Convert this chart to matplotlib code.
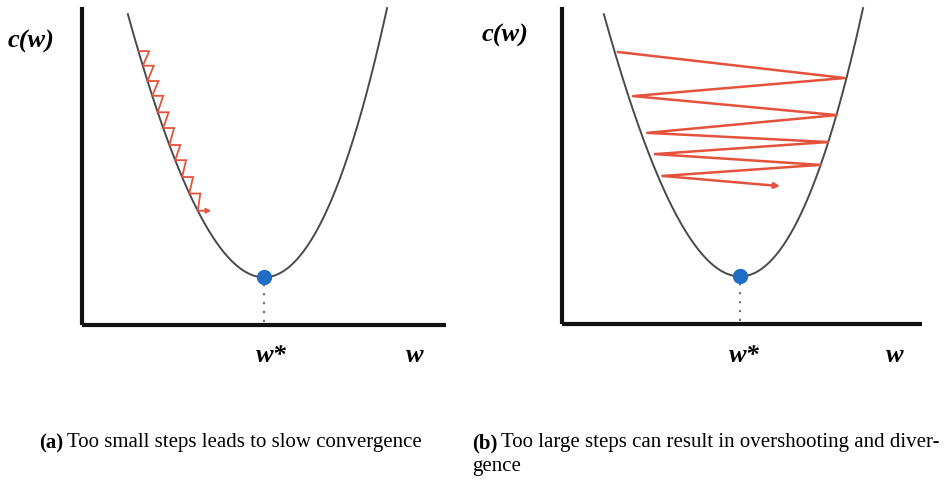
import numpy as np
import matplotlib
matplotlib.use("Agg")
import matplotlib.pyplot as plt

# cost curve c(w) = c_min + a*(w - w_opt)^2 + b*(w - w_opt)^3
w_opt = 5.0
c_min = 1.5
coef_a = 0.67
coef_b = 0.021
w_range = (1.26, 8.38)

# (a) small steps: w positions of each step on the curve, then the final arrow tip
small_steps_w = [1.55, 1.67, 1.80, 1.93, 2.08, 2.23, 2.40, 2.56, 2.75, 2.95, 3.18]
small_tooth = 0.3
small_arrow_end_w = 3.55

# (b) large steps: bouncing points across the valley
large_steps_w = [1.65, 7.88, 2.06, 7.66, 2.45, 7.42, 2.66, 7.20, 2.88, 6.10]
large_steps_c = [8.58, 7.76, 7.19, 6.59, 6.03, 5.74, 5.36, 5.02, 4.67, 4.35]

captions = [("(a)", "Too small steps leads to slow convergence"),
            ("(b)", "Too large steps can result in overshooting and diver-")]
caption_tail = "gence"

RED = "#e4523b"
CURVE = "#4a4a4a"
BLUE = "#1f6ec4"
SERIF = "Liberation Serif"


def cost(w):
    d = np.asarray(w) - w_opt
    return c_min + coef_a * d ** 2 + coef_b * d ** 3


W, H = 949, 481
fig = plt.figure(figsize=(W / 100, H / 100), dpi=100)


def px_axes(x0, y_top, x1, y_bot):
    return fig.add_axes([x0 / W, 1 - y_bot / H, (x1 - x0) / W, (y_bot - y_top) / H])


def setup(ax, xmin):
    ax.set_xlim(xmin, 10)
    ax.set_ylim(0, 10)
    for side in ("top", "right"):
        ax.spines[side].set_visible(False)
    for side in ("left", "bottom"):
        ax.spines[side].set_linewidth(3)
        ax.spines[side].set_color("#111111")
        ax.spines[side].set_capstyle("butt")
    ax.set_xticks([])
    ax.set_yticks([])
    ax.patch.set_alpha(0)

    ws = np.linspace(*w_range, 300)
    ax.plot(ws, cost(ws), color=CURVE, lw=1.4, zorder=2)
    ax.vlines(w_opt, 0.1, c_min, colors="#777777", linestyles=(0, (1, 3)), lw=1.6, zorder=1)
    ax.plot([w_opt], [c_min], "o", color=BLUE, ms=10, zorder=5)


ax1 = px_axes(82, 8, 446, 326)
setup(ax1, 0.0)
ax2 = px_axes(562, 8, 922, 325)
setup(ax2, 0.11)

# zigzag of small steps hugging the curve
xs, ys = [], []
for i, w in enumerate(small_steps_w):
    c = float(cost(w))
    xs.append(w)
    ys.append(c)
    if i < len(small_steps_w) - 1:
        xs.append(w + small_tooth)
        ys.append(c)
ax1.plot(xs, ys, color=RED, lw=1.3, zorder=4, solid_joinstyle="miter")
last_c = float(cost(small_steps_w[-1]))
ax1.annotate("", xy=(small_arrow_end_w, last_c), xytext=(small_steps_w[-1], last_c),
             arrowprops=dict(arrowstyle="-|>", color=RED, lw=1.3, mutation_scale=7,
                             shrinkA=0, shrinkB=0), zorder=4)

# big overshooting steps
ax2.plot(large_steps_w[:-1], large_steps_c[:-1], color=RED, lw=1.8, zorder=4)
ax2.annotate("", xy=(large_steps_w[-1], large_steps_c[-1]),
             xytext=(large_steps_w[-2], large_steps_c[-2]),
             arrowprops=dict(arrowstyle="-|>", color=RED, lw=1.8, mutation_scale=8,
                             shrinkA=0, shrinkB=0), zorder=4)

lab = dict(family=SERIF, fontsize=19, fontweight="bold", style="italic",
           ha="center", va="center")
fig.text(31 / W, 1 - 41 / H, "c(w)", **lab)
fig.text(505 / W, 1 - 35 / H, "c(w)", **lab)
fig.text(271 / W, 1 - 356 / H, "w*", **lab)
fig.text(415 / W, 1 - 356 / H, "w", **lab)
fig.text(744 / W, 1 - 356 / H, "w*", **lab)
fig.text(895 / W, 1 - 356 / H, "w", **lab)

# sub-captions: bold tag followed by plain text
renderer = fig.canvas.get_renderer()
cap_size = 15
for (tag, body), x0 in zip(captions, (39, 472)):
    t = fig.text(x0 / W, 1 - 443 / H, tag, family=SERIF, fontsize=cap_size,
                 fontweight="bold", va="center")
    bb = t.get_window_extent(renderer)
    fig.text((bb.x1 + 4) / W, 1 - 443 / H, body, family=SERIF, fontsize=cap_size,
             va="center")
fig.text(472 / W, 1 - 467 / H, caption_tail, family=SERIF, fontsize=cap_size, va="center")

fig.savefig("out.png", dpi=100)
